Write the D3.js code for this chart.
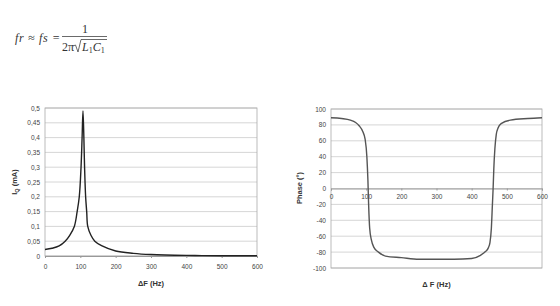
<!DOCTYPE html>
<html>
<head>
<meta charset="utf-8">
<script src="https://cdn.jsdelivr.net/npm/d3@7"></script>
<style>
body { margin: 0; background: #fff; }
svg { display: block; }
</style>
</head>
<body>
<svg id="c" width="560" height="306"></svg>
<script>
// current vs frequency offset
var currF = [0, 20, 40, 57, 70, 83, 91, 97, 102, 105, 107.5, 110, 112, 115, 118, 121, 130, 141, 160, 200, 250, 300, 400, 500, 600]
var currI = [0.022, 0.026, 0.034, 0.05, 0.07, 0.1, 0.15, 0.2, 0.3, 0.4, 0.49, 0.4, 0.3, 0.2, 0.15, 0.1, 0.07, 0.05, 0.035, 0.017, 0.009, 0.005, 0.002, 0.001, 0.001]

// phase vs frequency offset
var phF = [0, 30, 55, 70, 80, 90, 97, 102, 105, 107, 110, 115, 122, 135, 155, 200, 250, 350, 400, 425, 440, 447, 452, 456, 459, 461, 463, 466, 470, 475, 485, 510, 560, 600]
var phV = [89, 88, 86, 83, 79, 72, 62, 40, 10, -20, -50, -65, -74, -80, -85, -87, -89, -89, -88, -84, -79, -75, -68, -50, -20, 0, 25, 50, 68, 76, 82, 86, 88, 89]

var xTicks = [0, 100, 200, 300, 400, 500, 600]
var iTicks = [0, 0.05, 0.1, 0.15, 0.2, 0.25, 0.3, 0.35, 0.4, 0.45, 0.5]
var phTicks = [-100, -80, -60, -40, -20, 0, 20, 40, 60, 80, 100]

var svg = d3.select("#c")
var fmt = function(d){ return String(d).replace(".", ",") }

// formula
var f = svg.append("g").attr("font-family", "Liberation Serif").attr("fill", "#333").attr("font-size", 12)
f.append("text").attr("x", 15).attr("y", 42).attr("font-style", "italic").attr("textLength", 45).text("fr ≈ fs =")
f.append("text").attr("x", 82).attr("y", 33).text("1")
f.append("line").attr("x1", 62).attr("x2", 107).attr("y1", 36.5).attr("y2", 36.5).attr("stroke", "#444").attr("stroke-width", 0.8)
f.append("text").attr("x", 62).attr("y", 51).text("2π")
f.append("path").attr("d", "M73,46 L75.5,45 L78,52 L81,39.5 L107,39.5").attr("fill", "none").attr("stroke", "#444").attr("stroke-width", 0.8)
var den = f.append("text").attr("x", 82).attr("y", 51).attr("font-style", "italic")
den.append("tspan").text("L")
den.append("tspan").attr("font-size", 8).attr("dy", 2).attr("font-style", "normal").text("1")
den.append("tspan").attr("dy", -2).text("C")
den.append("tspan").attr("font-size", 8).attr("dy", 2).attr("font-style", "normal").text("1")

function panel(o) {
  var g = svg.append("g").attr("font-family", "Liberation Sans")
  var x = d3.scaleLinear().domain([0, 600]).range([o.x0, o.x1])
  var y = d3.scaleLinear().domain(o.dom).range([o.y1, o.y0])

  g.selectAll(".grid").data(o.ticks).enter().append("line")
    .attr("x1", o.x0).attr("x2", o.x1)
    .attr("y1", function(d){ return y(d) }).attr("y2", function(d){ return y(d) })
    .attr("stroke", "#ccc").attr("stroke-width", 0.8)

  g.append("rect").attr("x", o.x0).attr("y", o.y0).attr("width", o.x1 - o.x0).attr("height", o.y1 - o.y0)
    .attr("fill", "none").attr("stroke", "#aaa").attr("stroke-width", 0.8)

  var yAx = g.append("g").attr("transform", "translate(" + o.x0 + ",0)")
    .call(d3.axisLeft(y).tickValues(o.ticks).tickSize(0).tickPadding(5).tickFormat(fmt))
  yAx.select(".domain").remove()
  yAx.selectAll("text").attr("font-size", 6.5).attr("fill", "#444").attr("font-family", "Liberation Sans")

  var xy = y(o.xAt)
  var xAx = g.append("g").attr("transform", "translate(0," + xy + ")")
    .call(d3.axisBottom(x).tickValues(xTicks).tickSize(2).tickPadding(o.xPad))
  xAx.select(".domain").attr("stroke", "#999")
  xAx.selectAll("line").attr("stroke", "#999")
  xAx.selectAll("text").attr("font-size", 6.5).attr("fill", "#444").attr("font-family", "Liberation Sans")

  var line = d3.line().x(function(d){ return x(d[0]) }).y(function(d){ return y(d[1]) }).curve(o.curve)
  g.append("path").datum(d3.zip(o.fx, o.fy)).attr("d", line)
    .attr("fill", "none").attr("stroke", o.col).attr("stroke-width", 1.4)

  g.append("text").attr("x", (o.x0 + o.x1) / 2 + o.xtOff).attr("y", o.xtY).attr("text-anchor", "middle")
    .attr("font-size", 7.5).attr("font-weight", "bold").attr("fill", "#333").text(o.xTitle)
  return g
}

var g1 = panel({x0: 45, x1: 257, y0: 108, y1: 256, dom: [0, 0.5], ticks: iTicks, xAt: 0, xPad: 6,
  fx: currF, fy: currI, col: "#222", xTitle: "ΔF (Hz)", xtY: 286, xtOff: 0, curve: d3.curveCatmullRom.alpha(0.5)})
var t1 = g1.append("text").attr("transform", "translate(17,182) rotate(-90)").attr("text-anchor", "middle")
  .attr("font-size", 7.5).attr("font-weight", "bold").attr("fill", "#333")
t1.append("tspan").text("I")
t1.append("tspan").attr("font-size", 5.5).attr("dy", 2).text("Q")
t1.append("tspan").attr("dy", -2).text(" (mA)")

var g2 = panel({x0: 331, x1: 542, y0: 109, y1: 268, dom: [-100, 100], ticks: phTicks, xAt: 0, xPad: 4,
  fx: phF, fy: phV, col: "#555", xTitle: "Δ F (Hz)", xtY: 287, xtOff: 0, curve: d3.curveMonotoneX})
g2.append("text").attr("transform", "translate(302,188) rotate(-90)").attr("text-anchor", "middle")
  .attr("font-size", 7.5).attr("font-weight", "bold").attr("fill", "#333").text("Phase (°)")
</script>
</body>
</html>
